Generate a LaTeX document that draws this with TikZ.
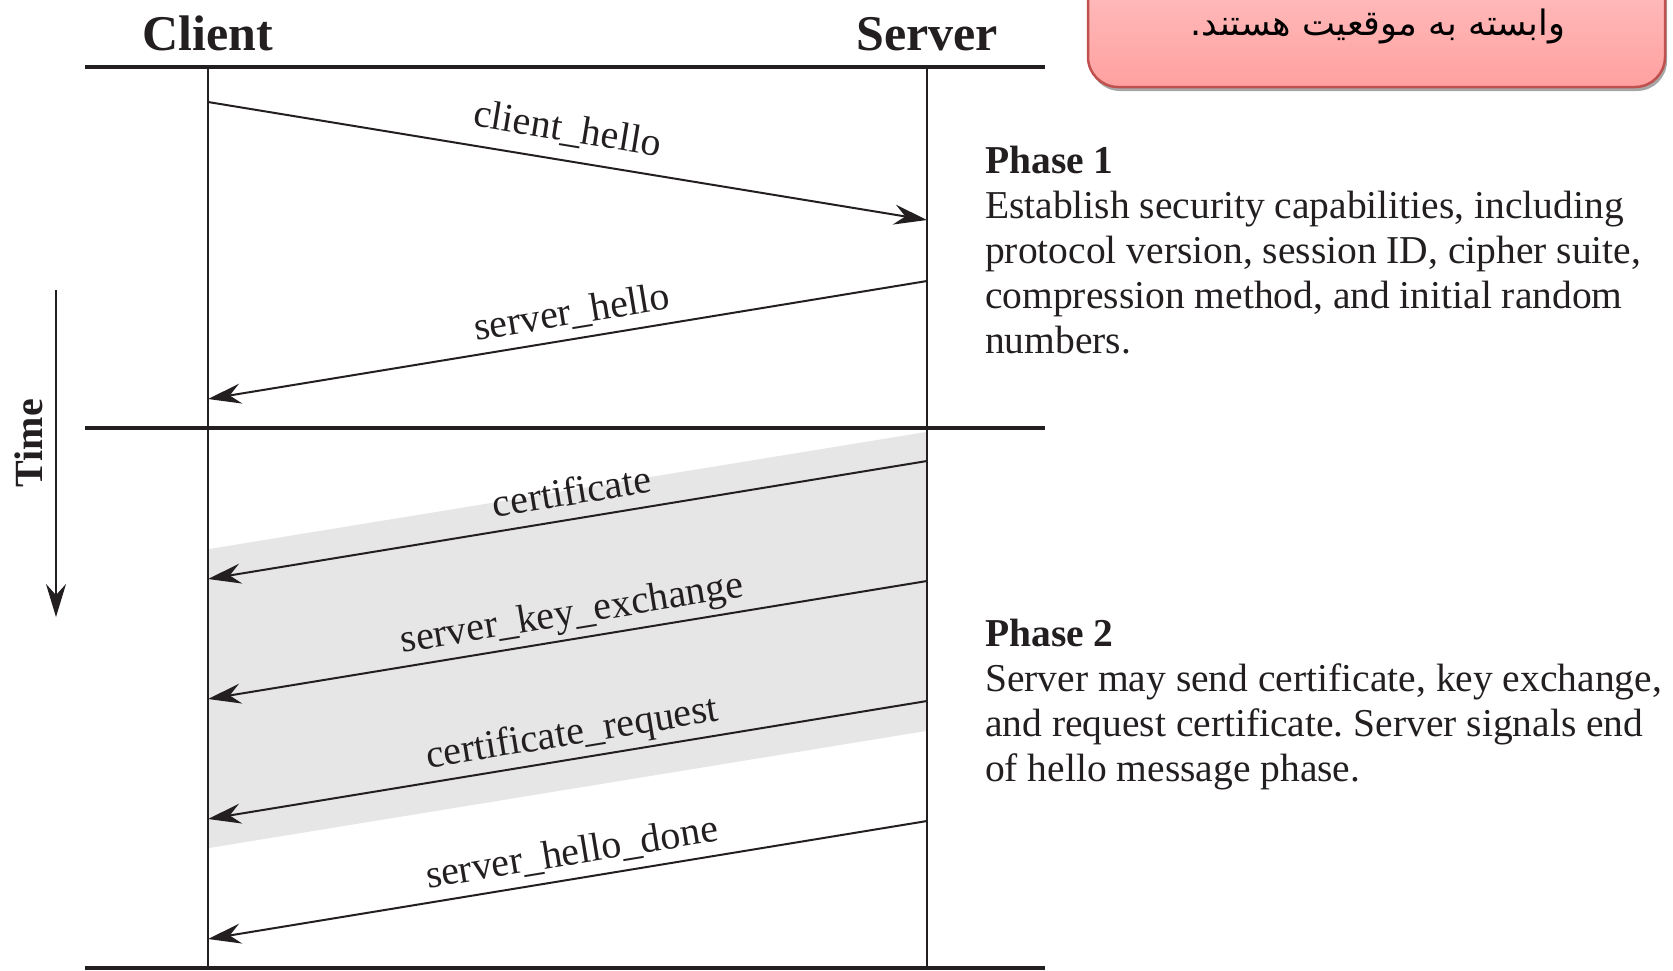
\documentclass[tikz,border=0pt]{standalone}
\usepackage{fontspec}
\setmainfont{Liberation Serif}
\newfontfamily\arabicfont[Script=Arabic]{DejaVu Sans}
\TeXXeTstate=1
\frenchspacing
\usetikzlibrary{arrows.meta,shadows}

\definecolor{ink}{RGB}{35,31,32}
\definecolor{bandgray}{RGB}{230,230,231}
\definecolor{notetop}{RGB}{255,200,200}
\definecolor{notebottom}{RGB}{255,160,160}
\definecolor{noteedge}{RGB}{192,80,77}

\begin{document}
\begin{tikzpicture}[x=1pt,y=-1pt,
  rule/.style={line width=4pt, draw=ink},
  lifeline/.style={line width=2pt, draw=ink},
  tip/.style={-{Stealth[length=33pt,width=20pt,inset=11pt]}},
  msg/.style={line width=2pt, draw=ink, tip},
  msglabel/.style={sloped, above=9pt, inner sep=2pt, text=ink,
    font=\fontsize{40}{46}\selectfont, text height=0.72em, text depth=0.22em},
  party/.style={anchor=base, inner sep=0pt, text=ink,
    font=\fontsize{50}{56}\selectfont\bfseries},
  bodyline/.style={anchor=base west, inner sep=0pt, text=ink,
    font=\fontsize{39.5}{45}\selectfont},
  headline/.style={bodyline, font=\fontsize{39.5}{45}\selectfont\bfseries},
]
\useasboundingbox (0,0) rectangle (1673,970);
\clip (0,0) rectangle (1673,970);

% shaded band behind the phase 2 messages
\fill[bandgray] (209,549) -- (926,432) -- (926,731) -- (209,848) -- cycle;

% horizontal rules
\draw[rule] (85,67) -- (1045,67);
\draw[rule] (85,428) -- (1045,428);
\draw[rule] (85,968) -- (1045,968);

% lifelines
\coordinate (ctop) at (208,67);
\coordinate (cbot) at (208,970);
\coordinate (stop) at (927,67);
\coordinate (sbot) at (927,970);
\draw[lifeline] (ctop) -- (cbot);
\draw[lifeline] (stop) -- (sbot);

% party names
\node[party] (client) at (208,50) {Client};
\node[party] (server) at (927,50) {Server};

% message end points
\coordinate (cA) at (208,102); \coordinate (sA) at (927,220);
\coordinate (sB) at (927,281); \coordinate (cB) at (208,399);
\coordinate (sC) at (927,461); \coordinate (cC) at (208,579);
\coordinate (sD) at (927,581); \coordinate (cD) at (208,699);
\coordinate (sE) at (927,701); \coordinate (cE) at (208,819);
\coordinate (sF) at (927,821); \coordinate (cF) at (208,939);

% messages
\draw[msg] (cA) -- node[msglabel, above=5pt, pos=0.493] (mA) {client\_hello} (sA);
\draw[msg] (sB) -- node[msglabel, pos=0.488] (mB) {server\_hello} (cB);
\draw[msg] (sC) -- node[msglabel, pos=0.488] (mC) {certificate} (cC);
\draw[msg] (sD) -- node[msglabel, pos=0.488] (mD) {server\_key\_exchange} (cD);
\draw[msg] (sE) -- node[msglabel, pos=0.488] (mE) {certificate\_request} (cE);
\draw[msg] (sF) -- node[msglabel, pos=0.488] (mF) {server\_hello\_done} (cF);

% time axis
\coordinate (tstart) at (56,290);
\coordinate (tend) at (56,617);
\draw[line width=2pt, draw=ink, tip] (tstart) -- (tend);
\node[rotate=90, inner sep=0pt, text=ink, font=\fontsize{40}{46}\selectfont\bfseries]
  (time) at (29,443) {Time};

% phase 1 description
\node[headline] (p1h) at (985,173) {Phase 1};
\node[bodyline] (p1a) at (985,218) {Establish security capabilities, including};
\node[bodyline] (p1b) at (985,263) {protocol version, session ID, cipher suite,};
\node[bodyline] (p1c) at (985,308) {compression method, and initial random};
\node[bodyline] (p1d) at (985,353) {numbers.};

% phase 2 description
\node[headline] (p2h) at (985,646) {Phase 2};
\node[bodyline] (p2a) at (985,691) {Server may send certificate, key exchange,};
\node[bodyline] (p2b) at (985,736) {and request certificate. Server signals end};
\node[bodyline] (p2c) at (985,781) {of hello message phase.};

% callout note
\path[draw=noteedge, line width=2.5pt, rounded corners=30pt,
  top color=notetop, bottom color=notebottom,
  drop shadow={shadow xshift=2pt, shadow yshift=-4pt, opacity=0.35, fill=black}]
  (1088,-60) rectangle (1665,87);
\node[inner sep=0pt, font=\fontsize{35}{40}\selectfont\arabicfont] (note) at (1378,26)
  {\beginR وابسته به موقعیت هستند.\endR};
\end{tikzpicture}
\end{document}
